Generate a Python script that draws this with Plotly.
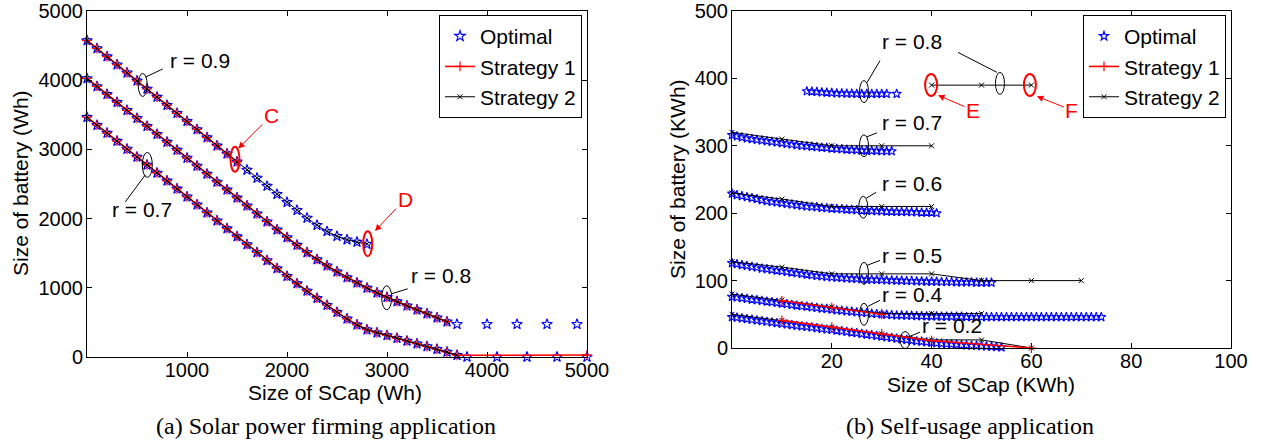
import plotly.graph_objects as go

W, H = 1262, 444
SANS = "Liberation Sans, Arial, sans-serif"
SERIF = "Liberation Serif, Times New Roman, serif"

# ---------------- (a) Solar power firming application ----------------
x_a09 = list(range(0, 2900, 100))
opt_a09 = [4575, 4458, 4341, 4224, 4107, 3990, 3873, 3756, 3639, 3522, 3405, 3288,
           3171, 3054, 2937, 2820, 2703, 2586, 2469, 2352, 2235, 2120, 2008, 1905,
           1815, 1745, 1695, 1660, 1630]

x_a08 = list(range(0, 3700, 100)) + [3700, 4000, 4300, 4600, 4900]
opt_a08 = [4025, 3910, 3795, 3680, 3565, 3450, 3335, 3220, 3105, 2990, 2875, 2760,
           2645, 2530, 2415, 2300, 2185, 2070, 1955, 1840, 1727, 1617, 1510, 1410,
           1318, 1232, 1150, 1072, 998, 928, 862, 800, 740, 682, 625, 567, 510,
           473, 473, 473, 473, 473]

x_a07 = list(range(0, 3800, 100)) + [3800, 4100, 4400, 4700, 5000]
opt_a07 = [3465, 3350, 3235, 3120, 3005, 2890, 2775, 2660, 2545, 2430, 2315, 2200,
           2085, 1970, 1855, 1740, 1625, 1510, 1395, 1280, 1168, 1060, 955, 850,
           748, 648, 552, 465, 395, 350, 312, 272, 232, 192, 152, 112, 72, 25,
           0, 0, 0, 0, 0]

# Strategy 1 (red) and Strategy 2 (black) overlap the optimal curve in (a)
s1_a09_x, s1_a09_y = x_a09[:16], opt_a09[:16]
s1_a08_x, s1_a08_y = x_a08[:37], opt_a08[:37]
s1_a07_x, s1_a07_y = x_a07[:38] + [5000], opt_a07[:38] + [28]
s2_a09_x, s2_a09_y = x_a09, opt_a09
s2_a08_x, s2_a08_y = x_a08[:37], opt_a08[:37]
s2_a07_x, s2_a07_y = x_a07[:38], opt_a07[:38]

# ---------------- (b) Self-usage application ----------------
x_b08 = list(range(15, 32)) + [33]
opt_b08 = [381, 380.5, 380, 379.5, 379, 378.5, 378, 378, 377.5, 377.5, 377, 377,
           377, 377, 377, 377, 377, 377]
x_b07 = list(range(0, 33))
opt_b07 = [316, 314, 312.5, 311, 310, 309, 308, 307, 306, 305, 304, 303, 302, 301,
           300, 299.5, 299, 298, 297.5, 297, 296, 295.5, 295, 294.5, 294, 293.5,
           293, 293, 292.5, 292.5, 292, 292, 292]
x_b06 = list(range(0, 42))
opt_b06 = [229, 227, 225.5, 224, 222.5, 221, 219.5, 218, 217, 216, 215, 214, 213,
           212, 211, 210, 209.5, 209, 208, 207.5, 207, 206.5, 206, 205.5, 205,
           204.5, 204, 204, 203.5, 203, 203, 202.5, 202.5, 202, 202, 202, 201.5,
           201.5, 201, 201, 201, 200]
x_b05 = list(range(0, 53))
opt_b05 = [126, 124.5, 123, 122, 120.5, 119.5, 118, 117, 116, 115, 114, 113, 112,
           111, 110, 109, 108, 107, 106.5, 105.5, 105, 104.5, 104, 103.5, 103,
           102.5, 102, 101.5, 101.5, 101, 101, 100.5, 100.5, 100, 100, 99.5, 99.5,
           99, 99, 98.5, 98.5, 98.5, 98, 98, 98, 97.5, 97.5, 97.5, 97.5, 97, 97,
           97, 97]
x_b04 = list(range(0, 75))
opt_b04 = [76, 75, 74, 73, 72, 71, 70, 69, 68, 67, 66, 65, 64, 63, 62, 61.5, 60.5,
           59.5, 58.5, 58, 57, 56, 55.5, 54.5, 54, 53, 52.5, 52, 51, 50.5, 50, 49.5,
           49, 48.5, 48.5, 48, 48, 47.5, 47.5, 47, 47, 47, 46.5, 46.5, 46.5, 46.5,
           46.5, 46, 46, 46, 46, 46, 46, 46, 46, 46, 46, 46, 46, 46, 46, 46, 46, 46,
           46, 46, 46, 46, 46, 46, 46, 46, 46, 46, 46]
x_b02 = list(range(0, 55))
opt_b02 = [46, 45, 44, 43, 42, 41, 40, 39, 38, 37, 36, 35, 34, 33, 32, 31.5, 30.5,
           29.5, 28.5, 27.5, 27, 26, 25, 24, 23, 22, 21, 20, 19, 18, 17, 16, 15, 14,
           13, 12, 11, 10, 9.5, 8.5, 8, 7, 6.5, 6, 5.5, 5, 4.5, 4, 3.5, 3.5, 3, 2.5,
           2, 1.5, 1]

s2_b08_x, s2_b08_y = [40, 50, 60], [390, 390, 390]
s2_b07_x, s2_b07_y = [0, 10, 20, 30, 40], [320, 310, 300, 300, 300]
s2_b06_x, s2_b06_y = [0, 10, 20, 30, 40], [230, 221, 210, 210, 210]
s2_b05_x, s2_b05_y = [0, 10, 20, 30, 40, 50, 60, 70], [128, 120, 110, 110, 110, 100, 100, 100]
s2_b04_x, s2_b04_y = [0, 10, 20, 30, 40, 50], [80, 71, 61, 51, 51, 51]
s2_b02_x, s2_b02_y = [0, 10, 20, 30, 40, 50, 60], [50, 41, 31, 21, 12, 12, 0]
s1_b04_x, s1_b04_y = [10, 20, 30], [70, 60, 50]
s1_b02_x, s1_b02_y = [10, 20, 30, 40, 60], [41, 31, 21, 11, 0]

# tick labels
a_xticks = [1000, 2000, 3000, 4000, 5000]
a_yticks = [0, 1000, 2000, 3000, 4000, 5000]
b_xticks = [20, 40, 60, 80, 100]
b_yticks = [0, 100, 200, 300, 400, 500]

# ---------------- styles ----------------
BLUE, RED, BLACK = "#0000ff", "#ff0000", "#000000"


def opt_marker(size):
    return dict(symbol="star-open", size=size, color=BLUE, line=dict(width=1.1, color=BLUE))


s1_style = dict(line=dict(color=RED, width=1.6),
                marker=dict(symbol="cross-thin-open", size=7, line=dict(width=1.2, color=RED)))
s2_style = dict(line=dict(color=BLACK, width=1),
                marker=dict(symbol="x-thin-open", size=5, line=dict(width=1, color=BLACK)))

fig = go.Figure()


def add(x, y, kind, ax, legend, show, star=8):
    common = dict(x=x, y=y, xaxis=ax[0], yaxis=ax[1], legend=legend,
                  showlegend=show, cliponaxis=False)
    if kind == "opt":
        fig.add_trace(go.Scatter(mode="markers", marker=opt_marker(star), name="Optimal",
                                 legendgroup="opt" + legend, legendrank=1, **common))
    elif kind == "s1":
        fig.add_trace(go.Scatter(mode="lines+markers", name="Strategy 1",
                                 legendgroup="s1" + legend, legendrank=2,
                                 **s1_style, **common))
    else:
        fig.add_trace(go.Scatter(mode="lines+markers", name="Strategy 2",
                                 legendgroup="s2" + legend, legendrank=3,
                                 **s2_style, **common))


A = ("x", "y")
B = ("x2", "y2")
# (a): optimal, strategy 1, strategy 2 (black on top)
add(x_a09, opt_a09, "opt", A, "legend", True)
add(x_a08, opt_a08, "opt", A, "legend", False)
add(x_a07, opt_a07, "opt", A, "legend", False)
add(s1_a09_x, s1_a09_y, "s1", A, "legend", True)
add(s1_a08_x, s1_a08_y, "s1", A, "legend", False)
add(s1_a07_x, s1_a07_y, "s1", A, "legend", False)
add(s2_a09_x, s2_a09_y, "s2", A, "legend", True)
add(s2_a08_x, s2_a08_y, "s2", A, "legend", False)
add(s2_a07_x, s2_a07_y, "s2", A, "legend", False)

# (b)
for i, (xx, yy) in enumerate([(x_b08, opt_b08), (x_b07, opt_b07), (x_b06, opt_b06),
                               (x_b05, opt_b05), (x_b04, opt_b04), (x_b02, opt_b02)]):
    add(xx, yy, "opt", B, "legend2", i == 0, star=7)
for i, (xx, yy) in enumerate([(s2_b08_x, s2_b08_y), (s2_b07_x, s2_b07_y),
                               (s2_b06_x, s2_b06_y), (s2_b05_x, s2_b05_y),
                               (s2_b04_x, s2_b04_y), (s2_b02_x, s2_b02_y)]):
    add(xx, yy, "s2", B, "legend2", i == 0)
for i, (xx, yy) in enumerate([(s1_b04_x, s1_b04_y), (s1_b02_x, s1_b02_y)]):
    add(xx, yy, "s1", B, "legend2", i == 0)

# ---------------- layout ----------------
def px_x(p):
    return p / W


def px_y(p):
    return 1 - p / H


axis_common = dict(showgrid=False, zeroline=False, showline=True, linecolor="black",
                   linewidth=1, mirror="ticks", ticks="inside", ticklen=5,
                   tickcolor="black", tickwidth=1, automargin=False,
                   ticklabeloverflow="allow",
                   tickfont=dict(family=SANS, size=20, color="black"))

TOP = 11
fig.update_layout(
    width=W, height=H, margin=dict(l=0, r=0, t=0, b=0),
    paper_bgcolor="white", plot_bgcolor="white",
    font=dict(family=SANS, size=21, color="black"),
    xaxis=dict(domain=[px_x(87), px_x(587)], range=[0, 5000], tickvals=a_xticks,
               anchor="y", ticklabelstandoff=-5, **axis_common),
    yaxis=dict(domain=[px_y(357), px_y(TOP)], range=[0, 5000], tickvals=a_yticks,
               anchor="x", ticklabelstandoff=-1, **axis_common),
    xaxis2=dict(domain=[px_x(732), px_x(1231)], range=[0, 100], tickvals=b_xticks,
                anchor="y2", ticklabelstandoff=-5, **axis_common),
    yaxis2=dict(domain=[px_y(348), px_y(TOP)], range=[0, 500], tickvals=b_yticks,
                anchor="x2", ticklabelstandoff=-1, **axis_common),
    legend=dict(x=px_x(582), y=px_y(15), xanchor="right", yanchor="top",
                bordercolor="black", borderwidth=1, bgcolor="white",
                font=dict(family=SANS, size=21), tracegroupgap=0, itemwidth=30),
    legend2=dict(x=px_x(1226), y=px_y(15), xanchor="right", yanchor="top",
                 bordercolor="black", borderwidth=1, bgcolor="white",
                 font=dict(family=SANS, size=21), tracegroupgap=0, itemwidth=30),
)

# ---------------- annotations ----------------
ann = []
# axis titles and captions (pixel positions)
titles = [
    ("Size of SCap (Wh)", 335, 392, 0, SANS, 21),
    ("Size of battery (Wh)", 20, 183, -90, SANS, 21),
    ("Size of SCap (KWh)", 981, 384, 0, SANS, 21),
    ("Size of battery (KWh)", 677, 179, -90, SANS, 21),
    ("(a) Solar power firming application", 326, 426, 0, SERIF, 24),
    ("(b) Self-usage application", 970, 426, 0, SERIF, 24),
]
for t, px, py, ang, fam, sz in titles:
    ann.append(dict(text=t, x=px_x(px), y=px_y(py), xref="paper", yref="paper",
                    showarrow=False, textangle=ang, xanchor="center", yanchor="middle",
                    font=dict(family=fam, size=sz, color="black")))

# r labels
r_labels = [
    ("r = 0.9", "x", "y", 1130, 4285),
    ("r = 0.7", "x", "y", 550, 2135),
    ("r = 0.8", "x", "y", 3540, 1175),
    ("r = 0.8", "x2", "y2", 36.1, 454),
    ("r = 0.7", "x2", "y2", 36.1, 334),
    ("r = 0.6", "x2", "y2", 36.1, 244),
    ("r = 0.5", "x2", "y2", 36.1, 137.5),
    ("r = 0.4", "x2", "y2", 36.1, 79.4),
    ("r = 0.2", "x2", "y2", 44.0, 32.8),
]
for t, xr, yr, x, y in r_labels:
    ann.append(dict(text=t, x=x, y=y, xref=xr, yref=yr, showarrow=False,
                    font=dict(family=SANS, size=21, color="black")))

# red point labels with arrows (head position in data, text offset in px)
red_labels = [
    ("C", "x", "y", 1513, 3014, 33, -33),
    ("D", "x", "y", 2880, 1820, 30, -32),
    ("E", "x2", "y2", 41.3, 375, 35, 15),
    ("F", "x2", "y2", 61.1, 373.5, 35, 14),
]
for t, xr, yr, x, y, axp, ayp in red_labels:
    ann.append(dict(text=t, x=x, y=y, xref=xr, yref=yr, ax=axp, ay=ayp,
                    showarrow=True, arrowhead=2, arrowsize=1.3, arrowwidth=1,
                    arrowcolor=RED, standoff=0,
                    font=dict(family=SANS, size=21, color=RED)))
fig.update_layout(annotations=ann)

# ---------------- ellipses and leader lines ----------------
shapes = []
ellipses = [
    # xref, yref, cx, cy, w_px, h_px, color, width
    ("x", "y", 557, 3931, 9, 23, BLACK, 1),
    ("x", "y", 603, 2776, 10, 25, BLACK, 1),
    ("x", "y", 2997, 856, 10, 24, BLACK, 1),
    ("x", "y", 1480, 2856, 9, 25, RED, 2),
    ("x", "y", 2807, 1638, 9, 25, RED, 2),
    ("x2", "y2", 26.45, 380.4, 9, 22, BLACK, 1),
    ("x2", "y2", 53.7, 392.6, 9, 22, BLACK, 1),
    ("x2", "y2", 39.9, 390.1, 12, 22, RED, 2),
    ("x2", "y2", 59.7, 390.1, 12, 22, RED, 2),
    ("x2", "y2", 26.45, 300, 9, 22, BLACK, 1),
    ("x2", "y2", 26.3, 208.8, 9, 22, BLACK, 1),
    ("x2", "y2", 26.45, 110.7, 9, 22, BLACK, 1),
    ("x2", "y2", 26.45, 50, 9, 22, BLACK, 1),
    ("x2", "y2", 34.7, 11.8, 10, 17, BLACK, 1),
]
for xr, yr, cx, cy, w, h, c, lw in ellipses:
    shapes.append(dict(type="circle", xref=xr, yref=yr, xsizemode="pixel",
                       ysizemode="pixel", xanchor=cx, yanchor=cy,
                       x0=-w / 2, x1=w / 2, y0=-h / 2, y1=h / 2,
                       line=dict(color=c, width=lw), layer="above"))
leaders = [
    # xref, yref, anchor x, anchor y, dx0, dy0, dx1, dy1 (px, up positive)
    ("x", "y", 557, 3931, 3, 8, 20, 16),
    ("x", "y", 603, 2776, -2, -10, -22, -37),
    ("x", "y", 2997, 856, 5, 4, 21, 9),
    ("x2", "y2", 26.45, 380.4, 3, 9, 16, 31),
    ("x2", "y2", 53.7, 392.6, -3, 11, -42, 31),
    ("x2", "y2", 26.45, 300, 3, 9, 13, 13),
    ("x2", "y2", 26.3, 208.8, 3, 9, 13, 15),
    ("x2", "y2", 26.45, 110.7, 3, 8, 16, 13),
    ("x2", "y2", 26.45, 50, 4, 8, 16, 14),
    ("x2", "y2", 34.7, 11.8, 3, 3, 15, 8),
]
for xr, yr, cx, cy, dx0, dy0, dx1, dy1 in leaders:
    shapes.append(dict(type="line", xref=xr, yref=yr, xsizemode="pixel",
                       ysizemode="pixel", xanchor=cx, yanchor=cy,
                       x0=dx0, x1=dx1, y0=dy0, y1=dy1,
                       line=dict(color=BLACK, width=1), layer="above"))
fig.update_layout(shapes=shapes)

fig.write_html("out.html")
